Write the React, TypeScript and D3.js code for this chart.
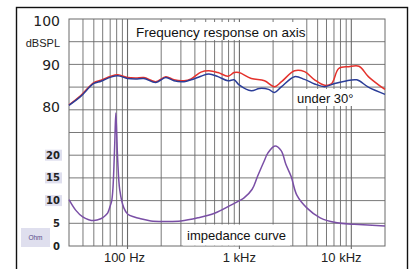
import React from "react";
import * as d3 from "d3";

const W = 412;
const H = 269;

// frequency response on axis (Hz, dB SPL)
const redFreq = [30, 38, 50, 58, 71, 82, 100, 119, 140, 179, 220, 260, 320, 370, 453, 534, 644, 792, 897, 993, 1277, 1676, 2060, 2380, 3110, 3820, 4700, 5780, 6680, 7720, 9500, 11700, 14200, 17500, 20000];
const redDb = [81.1, 83.1, 86.0, 86.5, 87.4, 87.7, 87.1, 87.0, 87.1, 86.2, 87.3, 86.6, 86.4, 86.8, 88.3, 88.6, 88.2, 87.4, 88.2, 88.2, 86.9, 86.4, 85.1, 86.2, 88.6, 88.4, 86.6, 85.4, 85.8, 89.1, 89.5, 89.6, 87.3, 85.5, 84.5];

// response under 30 degrees
const blueFreq = [30, 38, 50, 58, 71, 82, 100, 119, 140, 179, 220, 260, 320, 370, 453, 534, 644, 792, 897, 993, 1277, 1510, 1820, 2060, 2380, 3110, 3820, 4700, 5780, 7110, 8740, 11200, 14200, 20000];
const blueDb = [81.0, 82.9, 85.8, 86.3, 87.2, 87.5, 86.9, 86.8, 86.9, 86.0, 87.1, 86.4, 86.2, 86.6, 87.4, 87.9, 87.3, 86.4, 86.6, 85.5, 84.2, 84.7, 84.5, 83.8, 85.1, 87.3, 86.7, 85.7, 85.1, 85.8, 86.3, 86.6, 85.0, 83.4];

// impedance (Hz, Ohm)
const impFreq = [30, 34.4, 39.8, 45, 49.9, 57.7, 62, 66.6, 70, 72.3, 74, 75.4, 77, 78.6, 80, 81.7, 85.3, 92.7, 100.6, 115, 131.6, 161.8, 220, 300, 426, 600, 840, 1000, 1100, 1300, 1450, 1650, 1800, 2080, 2360, 2600, 2900, 3260, 4000, 5270, 7450, 10600, 20000];
const impOhm = [10.2, 7.9, 6.4, 5.8, 5.6, 6.0, 6.5, 7.3, 8.8, 10.0, 12.5, 16.7, 23, 29.3, 25, 19, 12.3, 8.4, 7.0, 6.4, 6.0, 5.5, 5.4, 5.5, 6.2, 7.2, 9.0, 10.0, 10.6, 12.5, 15.3, 18.5, 20.5, 22.0, 21.0, 18.0, 15.3, 11.2, 8.4, 6.2, 5.1, 4.8, 4.4];

const dbTicks = [100, 90, 80];
const ohmTicks = [20, 15, 10, 5, 0];
const xTickFreq = [100, 1000, 10000];
const xTickLabels = ["100 Hz", "1 kHz", "10 kHz"];

export default function App() {
  const left = 69, right = 385, top = 19, bottom = 246;
  const x = d3.scaleLog().domain([30, 20000]).range([left, right]);
  const yDb = d3.scaleLinear().domain([50, 100]).range([bottom, top]);
  const yOhm = d3.scaleLinear().domain([0, 50]).range([bottom, top]);

  const vGrid: number[] = [];
  [10, 100, 1000, 10000].forEach((dec) => {
    for (let k = 1; k <= 9; k++) {
      const f = dec * k;
      if (f > 30 && f < 20000) vGrid.push(f);
    }
  });
  const hGrid = d3.range(55, 100, 5);
  const majors = new Set([100, 1000, 10000]);

  const line = (fs: number[], vs: number[], y: d3.ScaleLinear<number, number>) =>
    d3
      .line<number>()
      .x((_, i) => x(fs[i]))
      .y((v) => y(v))
      .curve(d3.curveCatmullRom.alpha(0.5))(vs) || "";

  const gridColor = "#6a6a6a";
  const labelDx = [-3, 0, -10];

  return (
    <svg width={W} height={H} style={{ position: "absolute", left: 0, top: 0, background: "#fff" }}>
      <rect x={0} y={0} width={W} height={H} fill="#fff" />
      {/* outer frame */}
      <rect x={16.5} y={7.5} width={391} height={280} fill="none" stroke="#111" strokeWidth={1.4} />

      {/* grid */}
      {vGrid.map((f) => (
        <line key={"v" + f} x1={x(f)} x2={x(f)} y1={top} y2={majors.has(f) ? bottom + 3 : bottom} stroke={gridColor} strokeWidth={majors.has(f) ? 1.1 : 0.9} />
      ))}
      {hGrid.map((v) => (
        <line key={"h" + v} x1={left} x2={right} y1={yDb(v)} y2={yDb(v)} stroke={gridColor} strokeWidth={0.9} />
      ))}
      <rect x={left} y={top} width={right - left} height={bottom - top} fill="none" stroke={gridColor} strokeWidth={1} />

      {/* text backgrounds */}
      <rect x={134} y={22} width={172} height={18} fill="#fff" />
      <rect x={294} y={89} width={68} height={17} fill="#fff" />
      <rect x={183} y={224.5} width={107} height={21} fill="#fff" />

      {/* curves */}
      <path d={line(redFreq, redDb, yDb)} fill="none" stroke="#e4322c" strokeWidth={1.5} />
      <path d={line(blueFreq, blueDb, yDb)} fill="none" stroke="#2b3d98" strokeWidth={1.5} />
      <path d={line(impFreq, impOhm, yOhm)} fill="none" stroke="#7a4fa6" strokeWidth={1.5} />

      {/* annotations */}
      <text x={136} y={36.5} fontFamily="Liberation Sans, Arial, sans-serif" fontSize={13.5} fill="#111">Frequency response on axis</text>
      <text x={297} y={103} fontFamily="Liberation Sans, Arial, sans-serif" fontSize={13} fill="#111">under 30°</text>
      <text x={187} y={240} fontFamily="Liberation Sans, Arial, sans-serif" fontSize={13} fill="#111">impedance curve</text>

      {/* dB labels */}
      {dbTicks.map((v) => (
        <text key={"db" + v} x={60} y={yDb(v) + (v === 100 ? 7 : v === 90 ? 6 : 2)} textAnchor="end" fontFamily="DejaVu Sans, sans-serif" fontSize={14} fill="#222">{v}</text>
      ))}
      <text x={60} y={46.5} textAnchor="end" fontFamily="Liberation Sans, Arial, sans-serif" fontSize={11} fill="#222">dBSPL</text>

      {/* ohm labels */}
      {ohmTicks.map((v) => (
        <g key={"oh" + v}>
          {v >= 10 && <rect x={45} y={yOhm(v) - 5.5} width={17} height={11} fill="#dfdfee" />}
          <text x={60} y={yOhm(v) + 3.5} textAnchor="end" fontFamily="DejaVu Sans, sans-serif" fontWeight="bold" fontSize={10} fill="#222">{v}</text>
        </g>
      ))}
      <rect x={21} y={228} width={29} height={19} fill="#dfdfee" />
      <text x={35.5} y={240} textAnchor="middle" fontFamily="Liberation Sans, Arial, sans-serif" fontSize={6.5} fill="#5a4a8a">Ohm</text>

      {/* x labels */}
      {xTickFreq.map((f, i) => (
        <text key={"xl" + f} x={x(f) + labelDx[i]} y={262} textAnchor="middle" fontFamily="Liberation Sans, Arial, sans-serif" fontSize={13} fill="#222">{xTickLabels[i]}</text>
      ))}
    </svg>
  );
}
